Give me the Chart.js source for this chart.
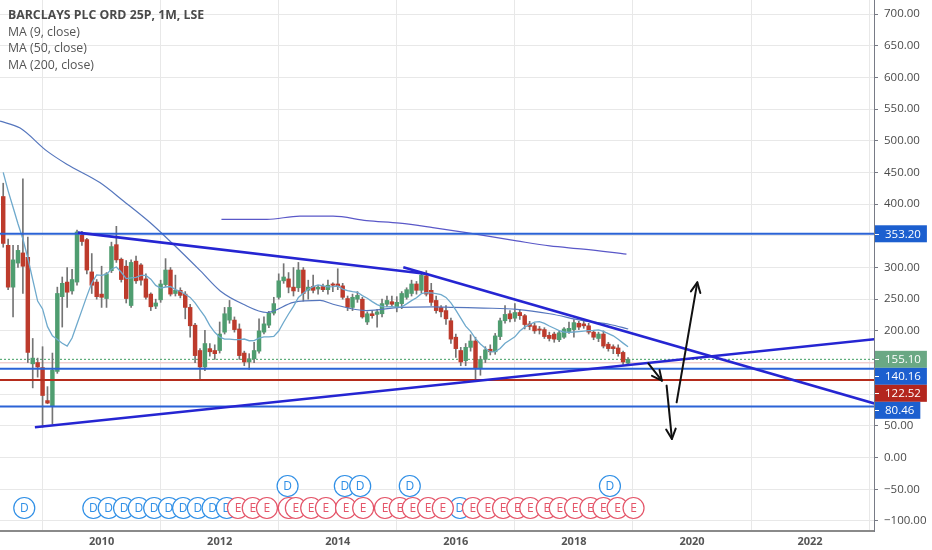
<!DOCTYPE html>
<html>
<head>
<meta charset="utf-8">
<script src="https://cdn.jsdelivr.net/npm/chart.js@4.4.1/dist/chart.umd.min.js"></script>
<style>
html, body { margin: 0; padding: 0; background: #fff; }
#wrap { position: relative; width: 932px; height: 550px; }
#legend { position: absolute; left: 8px; top: 7px; font-family: "Open Sans", sans-serif; font-size: 12.3px; line-height: 16.7px; color: #555; pointer-events: none; }
#legend .title { font-weight: bold; color: #4a4a4a; }
</style>
</head>
<body>
<div id="wrap">
  <canvas id="chart_canvas" width="932" height="550"></canvas>
  <div id="legend">
    <div class="title">BARCLAYS PLC ORD 25P, 1M, LSE</div>
    <div>MA (9, close)</div>
    <div>MA (50, close)</div>
    <div>MA (200, close)</div>
  </div>
</div>
<script>
// monthly bars, first one is May 2008
const start_year = 2008;
const start_month = 5;

const opens = [
    412, 335, 269, 307, 323, 316, 148, 150,
    142, 90, 81, 136, 254, 277, 263, 277, 351, 344, 293, 277,
    258, 251, 295, 336, 313, 302, 240, 310, 304, 282, 258, 239,
    249, 273, 296, 259, 264, 258, 237, 209, 169, 143, 172, 169,
    169, 198, 217, 217, 203, 165, 151, 156, 168, 198, 209, 228,
    253, 279, 282, 269, 268, 296, 264, 270, 266, 270, 265, 274,
    274, 271, 251, 237, 250, 250, 214, 227, 226, 227, 242, 246,
    238, 243, 253, 259, 274, 264, 287, 264, 248, 237, 232, 216,
    190, 169, 153, 174, 184, 141, 155, 171, 167, 191, 216, 227,
    220, 229, 224, 211, 208, 203, 202, 193, 195, 186, 190, 199,
    202, 212, 211, 208, 198, 188, 195, 179, 175, 173, 166, 149
];
const highs = [
    433, 345, 335, 335, 440, 348, 188, 157,
    175, 112, 165, 269, 285, 300, 297, 359, 357, 346, 322, 281,
    302, 292, 340, 365, 315, 311, 312, 318, 306, 290, 260, 250,
    280, 314, 300, 288, 268, 262, 242, 212, 172, 201, 180, 178,
    214, 237, 248, 222, 211, 168, 164, 182, 219, 222, 231, 253,
    290, 306, 292, 300, 308, 300, 280, 288, 272, 274, 280, 276,
    298, 275, 255, 258, 262, 253, 230, 232, 234, 250, 255, 255,
    254, 262, 268, 280, 278, 293, 295, 275, 255, 240, 240, 220,
    195, 174, 180, 194, 190, 160, 175, 178, 196, 220, 240, 232,
    243, 234, 226, 215, 212, 207, 205, 198, 198, 200, 205, 214,
    218, 215, 216, 212, 201, 198, 200, 182, 178, 178, 168, 158
];
const lows = [
    332, 265, 222, 300, 259, 150, 110, 127,
    48, 85, 53, 133, 206, 237, 258, 272, 335, 290, 259, 250,
    237, 237, 292, 308, 277, 244, 237, 275, 272, 250, 232, 235,
    245, 270, 255, 255, 252, 219, 190, 150, 124, 137, 160, 155,
    165, 195, 212, 198, 155, 145, 139, 150, 165, 195, 205, 225,
    250, 275, 260, 255, 262, 247, 250, 260, 258, 262, 258, 262,
    265, 250, 232, 232, 245, 220, 210, 220, 206, 222, 238, 238,
    230, 235, 250, 255, 258, 260, 255, 240, 228, 222, 210, 180,
    158, 145, 145, 168, 124, 130, 150, 162, 163, 186, 212, 214,
    215, 218, 203, 202, 196, 195, 188, 184, 182, 183, 188, 196,
    190, 202, 204, 195, 186, 183, 173, 168, 164, 160, 147, 146
];
const closes = [
    338, 269, 312, 327, 302, 166, 157, 143,
    98, 86, 138, 259, 275, 261, 281, 356, 341, 296, 272, 254,
    253, 290, 333, 312, 281, 251, 308, 279, 280, 253, 238, 244,
    274, 296, 258, 264, 256, 237, 208, 161, 143, 180, 167, 164,
    195, 227, 237, 202, 161, 151, 156, 169, 200, 211, 228, 243,
    279, 285, 269, 263, 296, 259, 269, 264, 269, 265, 272, 272,
    271, 253, 237, 253, 256, 222, 227, 224, 230, 243, 248, 242,
    245, 259, 265, 274, 264, 288, 258, 245, 232, 230, 219, 187,
    172, 151, 174, 184, 141, 155, 170, 167, 192, 216, 226, 219,
    229, 224, 210, 207, 200, 201, 191, 188, 187, 197, 203, 204,
    213, 206, 208, 198, 190, 195, 176, 172, 172, 164, 151, 155.1
];

// MA9 for the first 8 bars needs older closes ->
const ma9_lead = [450, 421, 395, 369, 345, 315, 281, 247];
// MA50 / MA200 (decimal year, value)
const ma50_dates = [2008.28, 2008.62, 2009.07, 2009.41, 2009.97, 2010.37, 2010.82, 2011.21, 2011.67, 2012.01, 2012.40, 2012.80, 2013.25, 2013.70, 2013.92, 2014.49, 2015.05, 2015.62, 2015.96, 2016.47, 2017.03, 2017.59, 2018.16, 2018.61, 2018.92];
const ma50_values = [531, 520, 484, 463, 434, 405, 371, 337, 295, 263, 242, 229, 245, 248, 242, 232, 237, 238, 237, 236, 234, 227, 216, 210, 203];
const ma200_dates = [2012.03, 2012.80, 2013.36, 2013.92, 2014.49, 2015.05, 2015.61, 2016.18, 2017.03, 2017.59, 2018.16, 2018.89];
const ma200_values = [376, 376, 381, 381, 374, 370, 363, 355, 342, 334, 329, 321];

// drawn levels and last price
const levels_blue = [353.2, 140.16, 80.46];
const levels_red = [122.52];
const last_price = 155.1;
const prev_close = 149.5;
const tag_values = [353.2, 155.1, 140.16, 122.52, 80.46];

// trend lines and arrows: [year, price] pairs
const trend_1 = [[2009.60, 355], [2015.48, 290]];
const trend_2 = [[2015.11, 300.2], [2023.1, 85]];
const trend_3 = [[2008.87, 47.8], [2023.1, 187]];
const arrow_1 = [[2019.26, 148.7], [2019.49, 121.5]];
const arrow_2 = [[2019.57, 113.6], [2019.66, 29.5]];
const arrow_3 = [[2019.74, 87.2], [2020.09, 276.5]];

// dividends (two rows) and earnings markers, decimal years
const dividends_low = [2008.69, 2009.86, 2010.12, 2010.38, 2010.63, 2010.89, 2011.14, 2011.38, 2011.63, 2011.88, 2012.12, 2016.07];
const dividends_high = [2013.15, 2014.12, 2014.38, 2015.22, 2018.61];
const earnings = [2012.31, 2012.56, 2012.80, 2013.17, 2013.29, 2013.55, 2013.80, 2014.14, 2014.43, 2014.80, 2015.05, 2015.27, 2015.53, 2015.78, 2016.29, 2016.54, 2016.80, 2017.04, 2017.26, 2017.54, 2017.76, 2018.02, 2018.28, 2018.50, 2018.74, 2019.01];

const year_ticks = [2010, 2012, 2014, 2016, 2018, 2020, 2022];
const price_ticks = [-100, -50, 0, 50, 100, 150, 200, 250, 300, 350, 400, 450, 500, 550, 600, 650, 700];

const x_min = 2008.279, x_max = 2023.083;
const y_min = -115.8, y_max = 722.1;

const up_color = "#4f9d70";
const down_color = "#bd3b2c";
const wick_color = "#747474";
const level_blue = "#2b63d6";
const level_red = "#b52c1c";
const trend_color = "#2525d2";
const tag_colors = ["#1c5fcf", "#6aa884", "#1c5fcf", "#b3261e", "#1c5fcf"];
const ui_font = '"Open Sans", sans-serif';

const bar_x = closes.map((_, i) => start_year + (start_month - 1 + i) / 12);
const ma9 = closes.map((c, i) => {
    if (i < 8) return ma9_lead[i];
    return closes.slice(i - 8, i + 1).reduce((a, b) => a + b, 0) / 9;
});

function pairs(p) {
    return p.map(v => ({ x: v[0], y: v[1] }));
}
function flat(v) {
    return [{ x: x_min, y: v }, { x: x_max + 1, y: v }];
}
function line_ds(data, color, width, order, extra) {
    return Object.assign({
        type: "line", data: data, borderColor: color, borderWidth: width,
        pointRadius: 0, fill: false, order: order, tension: 0
    }, extra || {});
}

const datasets = [];
// arrows & trend lines on top
[arrow_1, arrow_2, arrow_3].forEach(a => datasets.push(line_ds(pairs(a), "#111", 2, 0, { arrow: true, borderCapStyle: "round" })));
[trend_1, trend_2, trend_3].forEach(t => datasets.push(line_ds(pairs(t), trend_color, 2.6, 1)));
levels_blue.forEach(v => datasets.push(line_ds(flat(v), level_blue, 2, 2)));
levels_red.forEach(v => datasets.push(line_ds(flat(v), level_red, 2, 2)));
// moving averages
datasets.push(line_ds(bar_x.map((x, i) => ({ x: x, y: ma9[i] })), "#6ea9cc", 1.3, 3));
datasets.push(line_ds(ma50_dates.map((x, i) => ({ x: x, y: ma50_values[i] })), "#5576bd", 1.2, 3, { cubicInterpolationMode: "monotone" }));
datasets.push(line_ds(ma200_dates.map((x, i) => ({ x: x, y: ma200_values[i] })), "#5a58c8", 1.2, 3, { cubicInterpolationMode: "monotone" }));
// candles
datasets.push({
    type: "bar", order: 4, grouped: false, barThickness: 3.8, minBarLength: 1, borderWidth: 0,
    data: bar_x.map((x, i) => ({ x: x, y: [opens[i], closes[i]] })),
    backgroundColor: closes.map((c, i) => c >= opens[i] ? up_color : down_color)
});
datasets.push({
    type: "bar", order: 5, grouped: false, barThickness: 1, borderWidth: 0,
    data: bar_x.map((x, i) => ({ x: x, y: [lows[i], highs[i]] })),
    backgroundColor: wick_color
});
// last price + previous close
datasets.push(line_ds(flat(last_price), "#3f9f62", 1, 6, { borderDash: [2, 2] }));
datasets.push(line_ds(flat(prev_close), "#f3c2c2", 1, 6));

const arrow_heads = {
    id: "arrow_heads",
    afterDatasetsDraw(chart) {
        const ctx = chart.ctx;
        chart.data.datasets.forEach((ds, di) => {
            if (!ds.arrow) return;
            const pts = chart.getDatasetMeta(di).data;
            const a = pts[0], b = pts[1];
            const ang = Math.atan2(b.y - a.y, b.x - a.x);
            ctx.save();
            ctx.strokeStyle = ds.borderColor;
            ctx.lineWidth = ds.borderWidth;
            ctx.lineCap = "round";
            ctx.beginPath();
            for (const s of [-1, 1]) {
                ctx.moveTo(b.x, b.y);
                ctx.lineTo(b.x - 11 * Math.cos(ang + s * 0.45), b.y - 11 * Math.sin(ang + s * 0.45));
            }
            ctx.stroke();
            ctx.restore();
        });
    }
};

function draw_marker(ctx, x, y, letter, color) {
    ctx.beginPath();
    ctx.arc(x, y, 10.5, 0, Math.PI * 2);
    ctx.fillStyle = "#fff";
    ctx.fill();
    ctx.lineWidth = 1.2;
    ctx.strokeStyle = color;
    ctx.stroke();
    ctx.fillStyle = color;
    ctx.fillText(letter, x, y + 0.5);
}

const event_markers = {
    id: "event_markers",
    afterDatasetsDraw(chart) {
        const ctx = chart.ctx, xs = chart.scales.x, bottom = chart.chartArea.bottom;
        ctx.save();
        ctx.font = "12px " + ui_font;
        ctx.textAlign = "center";
        ctx.textBaseline = "middle";
        dividends_low.forEach(d => draw_marker(ctx, xs.getPixelForValue(d), bottom - 23, "D", "#2f8fe6"));
        earnings.forEach(d => draw_marker(ctx, xs.getPixelForValue(d), bottom - 23, "E", "#e45468"));
        dividends_high.forEach(d => draw_marker(ctx, xs.getPixelForValue(d), bottom - 45, "D", "#2f8fe6"));
        ctx.restore();
    }
};

const price_tags = {
    id: "price_tags",
    afterDraw(chart) {
        const ctx = chart.ctx, ys = chart.scales.y;
        ctx.save();
        ctx.font = "11.5px " + ui_font;
        ctx.textBaseline = "middle";
        let prev = -1e9;
        tag_values.forEach((v, i) => {
            const line_y = ys.getPixelForValue(v);
            const y = Math.max(line_y, prev + 17);
            prev = y;
            const text = v.toFixed(2);
            const w = ctx.measureText(text).width + 16;
            ctx.fillStyle = tag_colors[i];
            ctx.fillRect(ys.left + 1, y - 8.5, w, 17);
            ctx.fillStyle = "#fff";
            ctx.fillText(text, ys.left + 11, y + 0.5);
            ctx.strokeStyle = "#fff";
            ctx.lineWidth = 1;
            ctx.beginPath();
            ctx.moveTo(ys.left + 1, Math.round(y) + 0.5);
            ctx.lineTo(ys.left + 5, Math.round(y) + 0.5);
            ctx.stroke();
        });
        ctx.restore();
    }
};

new Chart(document.getElementById("chart_canvas"), {
    type: "bar",
    data: { datasets: datasets },
    options: {
        responsive: false,
        animation: false,
        events: [],
        layout: { padding: 0 },
        plugins: { legend: { display: false }, tooltip: { enabled: false } },
        scales: {
            x: {
                type: "linear", min: x_min, max: x_max, offset: false,
                afterBuildTicks: s => { s.ticks = year_ticks.map(v => ({ value: v })); },
                afterFit: s => { s.height = 19; s.paddingLeft = 0; s.paddingRight = 0; },
                grid: { color: "#e8e8e8", drawTicks: false },
                border: { color: "#8a8a8a", width: 2 },
                ticks: { padding: 4, maxRotation: 0, autoSkip: false, color: "#555", font: { family: ui_font, size: 11, weight: "bold" }, callback: v => String(v) }
            },
            y: {
                position: "right", min: y_min, max: y_max,
                afterBuildTicks: s => { s.ticks = price_ticks.map(v => ({ value: v })); },
                afterFit: s => { s.width = 58; s.paddingTop = 0; s.paddingBottom = 0; },
                grid: { color: "#e8e8e8", tickLength: 4, tickColor: "#787b86" },
                border: { color: "#787b86", width: 1 },
                ticks: { padding: 6, color: "#4a4a4a", font: { family: ui_font, size: 11.5 }, callback: v => (v < 0 ? "\u2212" + Math.abs(v).toFixed(2) : v.toFixed(2)) }
            }
        }
    },
    plugins: [arrow_heads, event_markers, price_tags]
});
</script>
</body>
</html>
